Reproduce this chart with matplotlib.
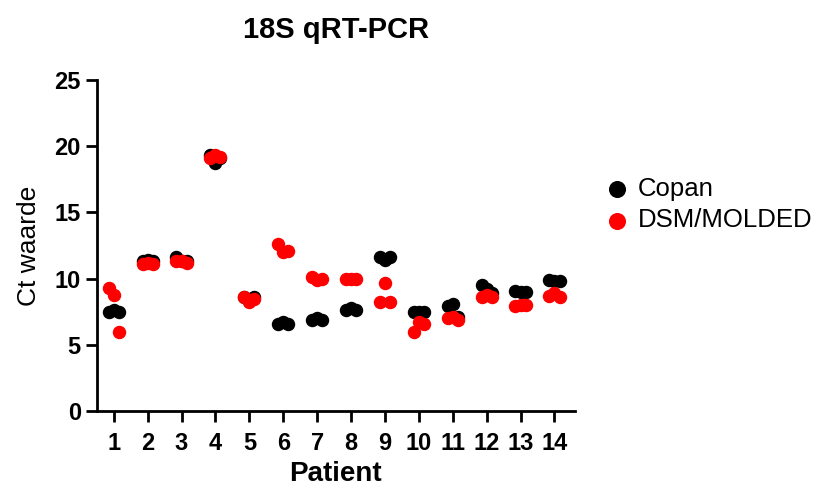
import matplotlib
matplotlib.use("Agg")
import matplotlib.pyplot as plt

plt.rcParams['font.family'] = ['Liberation Sans', 'DejaVu Sans']

patients = list(range(1, 15))

# triplicate Ct values per patient
copan = [
    [7.5, 7.6, 7.5],
    [11.3, 11.4, 11.3],
    [11.6, 11.3, 11.3],
    [19.3, 18.7, 19.1],
    [8.6, 8.5, 8.6],
    [6.6, 6.7, 6.6],
    [6.9, 7.0, 6.9],
    [7.6, 7.8, 7.6],
    [11.6, 11.4, 11.6],
    [7.5, 7.5, 7.5],
    [7.9, 8.1, 7.1],
    [9.5, 9.2, 8.9],
    [9.1, 9.0, 9.0],
    [9.9, 9.8, 9.8],
]
dsm_molded = [
    [9.3, 8.8, 6.0],
    [11.1, 11.2, 11.1],
    [11.3, 11.3, 11.2],
    [19.1, 19.3, 19.2],
    [8.6, 8.2, 8.5],
    [12.6, 12.0, 12.1],
    [10.1, 9.9, 10.0],
    [10.0, 10.0, 10.0],
    [8.2, 9.7, 8.2],
    [6.0, 6.7, 6.6],
    [7.0, 7.1, 6.9],
    [8.6, 8.8, 8.6],
    [7.9, 8.0, 8.0],
    [8.7, 8.9, 8.6],
]

offsets = [-0.15, 0.0, 0.15]

fig = plt.figure(figsize=(8.13, 4.93), dpi=100)
ax = fig.add_axes([0.119, 0.166, 0.588, 0.672])

for i, p in enumerate(patients):
    xs = [p + o for o in offsets]
    ax.scatter(xs, copan[i], s=75, color='black', zorder=3,
               label='Copan' if i == 0 else None)
    ax.scatter(xs, dsm_molded[i], s=75, color='#ff0000', zorder=4,
               label='DSM/MOLDED' if i == 0 else None)

ax.set_xlim(0.5, 14.6)
ax.set_ylim(0, 25)
ax.set_xticks(patients)
ax.set_yticks([0, 5, 10, 15, 20, 25])
ax.tick_params(axis='both', labelsize=17, width=2, length=8)
ax.tick_params(axis='x', pad=7)
for lbl in ax.get_xticklabels() + ax.get_yticklabels():
    lbl.set_fontweight('bold')

ax.spines['top'].set_visible(False)
ax.spines['right'].set_visible(False)
ax.spines['left'].set_linewidth(2)
ax.spines['bottom'].set_linewidth(2)

ax.set_ylabel('Ct waarde', fontsize=19, labelpad=10)
ax.set_xlabel('Patient', fontsize=20, fontweight='bold', labelpad=4)
ax.set_title('18S qRT-PCR', fontsize=21, fontweight='bold', pad=30)

ax.legend(loc='center left', bbox_to_anchor=(0.748, 0.585), bbox_transform=fig.transFigure,
          frameon=False, fontsize=18.5, handletextpad=0.45, labelspacing=0.3,
          handlelength=0.7, borderaxespad=0, borderpad=0, markerscale=1.3)

fig.savefig('out.png', dpi=100)
